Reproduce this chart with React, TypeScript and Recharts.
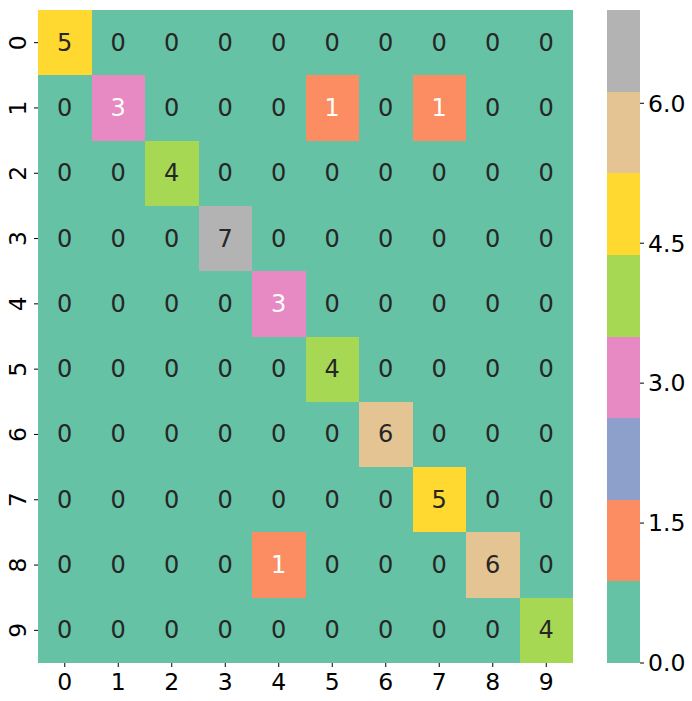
import { ScatterChart, Scatter, XAxis, YAxis, ReferenceArea } from 'recharts';

const classLabels = ['0', '1', '2', '3', '4', '5', '6', '7', '8', '9'];

// rows = true class, columns = predicted class
const confusion = [
  [5, 0, 0, 0, 0, 0, 0, 0, 0, 0],
  [0, 3, 0, 0, 0, 1, 0, 1, 0, 0],
  [0, 0, 4, 0, 0, 0, 0, 0, 0, 0],
  [0, 0, 0, 7, 0, 0, 0, 0, 0, 0],
  [0, 0, 0, 0, 3, 0, 0, 0, 0, 0],
  [0, 0, 0, 0, 0, 4, 0, 0, 0, 0],
  [0, 0, 0, 0, 0, 0, 6, 0, 0, 0],
  [0, 0, 0, 0, 0, 0, 0, 5, 0, 0],
  [0, 0, 0, 0, 1, 0, 0, 0, 6, 0],
  [0, 0, 0, 0, 0, 0, 0, 0, 0, 4],
];

const colorbarTicks = [0, 1.5, 3, 4.5, 6];
const vMin = 0;
const vMax = 7;

// matplotlib Set2
const set2 = ['#66c2a5', '#fc8d62', '#8da0cb', '#e78ac3', '#a6d854', '#ffd92f', '#e5c494', '#b3b3b3'];
// seaborn picks white text on the darker cells
const whiteText = [false, true, true, true, false, false, false, false];

const FONT = '"DejaVu Sans", sans-serif';
const TICK_FS = 23.5;
const ANNOT_FS = 24;
const n = classLabels.length;

const colorIndex = (v: number) => {
  const idx = Math.floor(((v - vMin) / (vMax - vMin)) * set2.length);
  return Math.min(set2.length - 1, Math.max(0, idx));
};

const cellTicks = classLabels.map((_, i) => i + 0.5);

function RotatedTick(props: any) {
  const { x, y, payload } = props;
  const cx = x - 12;
  return (
    <text
      x={cx}
      y={y}
      transform={`rotate(-90, ${cx}, ${y})`}
      textAnchor="middle"
      dominantBaseline="central"
      fill="#000"
      fontSize={TICK_FS}
      fontFamily={FONT}
    >
      {classLabels[Math.floor(payload.value)]}
    </text>
  );
}

function CellText(props: any) {
  const { cx, cy, payload } = props;
  const ci = colorIndex(payload.v);
  return (
    <text
      x={cx}
      y={cy}
      textAnchor="middle"
      dominantBaseline="central"
      fill={whiteText[ci] ? '#ffffff' : '#262626'}
      fontSize={ANNOT_FS}
      fontFamily={FONT}
    >
      {payload.v}
    </text>
  );
}

export default function App() {
  const cells = confusion.flatMap((row, r) => row.map((v, c) => ({ x: c + 0.5, y: r + 0.5, v, r, c })));
  const bands = set2.map((c, i) => ({
    color: c,
    from: vMin + (i * (vMax - vMin)) / set2.length,
    to: vMin + ((i + 1) * (vMax - vMin)) / set2.length,
  }));
  const barPoints = [{ x: 0.5, y: 0 }];

  return (
    <div style={{ position: 'absolute', left: 0, top: 0, width: 692, height: 701, background: '#fff', fontFamily: FONT }}>
      <div style={{ position: 'absolute', left: 0, top: 0 }}>
        <ScatterChart width={573} height={701} margin={{ top: 10, right: 0, bottom: 0, left: 0 }}>
          <XAxis
            type="number"
            dataKey="x"
            domain={[0, n]}
            ticks={cellTicks}
            tickFormatter={(v: number) => classLabels[Math.floor(v)]}
            height={38}
            axisLine={false}
            tickSize={4}
            tickMargin={6}
            tickLine={{ stroke: '#000', strokeWidth: 1 }}
            tick={{ fill: '#000', fontSize: TICK_FS, fontFamily: FONT }}
            interval={0}
            allowDataOverflow
          />
          <YAxis
            type="number"
            dataKey="y"
            domain={[0, n]}
            reversed
            ticks={cellTicks}
            width={38}
            axisLine={false}
            tickSize={4}
            tickMargin={4}
            tickLine={{ stroke: '#000', strokeWidth: 1 }}
            tick={<RotatedTick />}
            interval={0}
            allowDataOverflow
          />
          {/* base colour under all cells so the seams do not show */}
          <ReferenceArea x1={0} x2={n} y1={0} y2={n} fill={set2[0]} fillOpacity={1} stroke="none" ifOverflow="visible" />
          {cells
            .filter((cell) => colorIndex(cell.v) !== 0)
            .map((cell) => {
              const ci = colorIndex(cell.v);
              return (
                <ReferenceArea
                  key={`${cell.r}-${cell.c}`}
                  x1={cell.c}
                  x2={cell.c + 1}
                  y1={cell.r}
                  y2={cell.r + 1}
                  fill={set2[ci]}
                  fillOpacity={1}
                  stroke="none"
                  shapeRendering="crispEdges"
                  ifOverflow="visible"
                />
              );
            })}
          <Scatter data={cells} shape={<CellText />} isAnimationActive={false} />
        </ScatterChart>
      </div>
      <div style={{ position: 'absolute', left: 607, top: 0 }}>
        <ScatterChart width={85} height={701} margin={{ top: 10, right: 0, bottom: 38, left: 0 }}>
          <XAxis type="number" dataKey="x" domain={[0, 1]} hide allowDataOverflow />
          <YAxis
            type="number"
            dataKey="y"
            orientation="right"
            domain={[vMin, vMax]}
            ticks={colorbarTicks}
            tickFormatter={(v: number) => v.toFixed(1)}
            width={52}
            axisLine={false}
            tickSize={4}
            tickMargin={4}
            tickLine={{ stroke: '#000', strokeWidth: 1 }}
            tick={{ fill: '#000', fontSize: TICK_FS, fontFamily: FONT }}
            interval={0}
            allowDataOverflow
          />
          {bands.map((b, i) => (
            <ReferenceArea
              key={i}
              x1={0}
              x2={1}
              y1={b.from}
              y2={b.to}
              fill={b.color}
              fillOpacity={1}
              stroke="none"
              shapeRendering="crispEdges"
              ifOverflow="visible"
            />
          ))}
          <Scatter data={barPoints} shape={() => <g />} isAnimationActive={false} />
        </ScatterChart>
      </div>
    </div>
  );
}
